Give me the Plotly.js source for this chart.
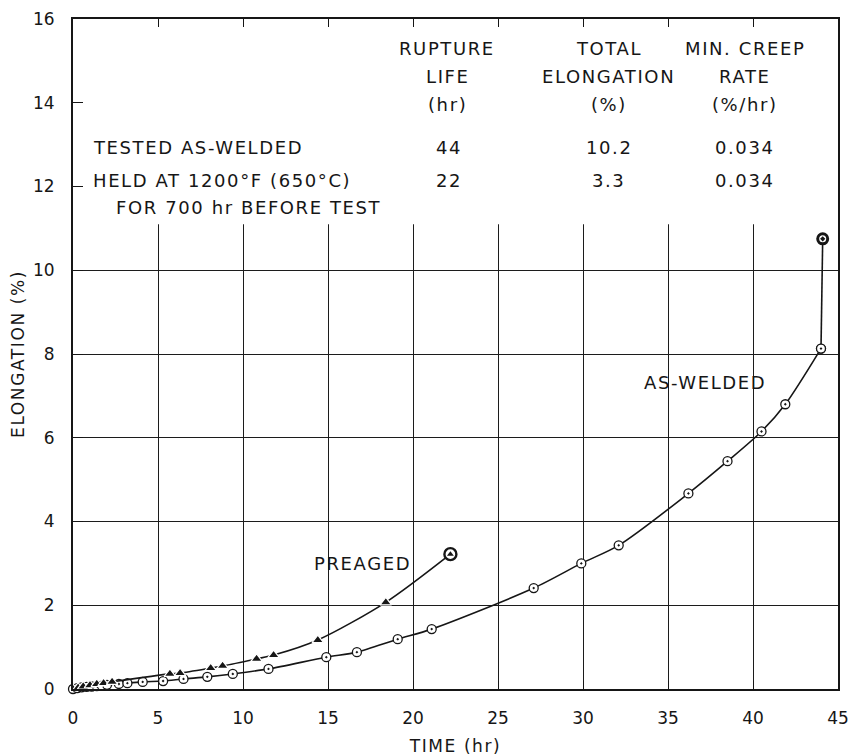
<!DOCTYPE html>
<html>
<head>
<meta charset="utf-8">
<script src="https://cdn.plot.ly/plotly-3.0.1.min.js"></script>
<style>
  html, body { margin: 0; padding: 0; background: #fff; }
  #chart { width: 855px; height: 756px; }
  .annotation-text { letter-spacing: 1.6px; }
  .xtitle, .ytitle { letter-spacing: 1.6px; }
</style>
</head>
<body>
<div id="chart"></div>
<script>
// ---- Data ----
// As-welded specimen (open circles)
const asWeldedTime = [0, 0.25, 0.5, 0.8, 1.1, 1.4, 1.7, 2.0, 2.7, 3.2, 4.1, 5.3, 6.5, 7.9, 9.4, 11.5, 14.9, 16.7, 19.1, 21.1, 27.1, 29.9, 32.1, 36.2, 38.5, 40.5, 41.9, 44.0];
const asWeldedElong = [0, 0.02, 0.04, 0.05, 0.06, 0.07, 0.08, 0.10, 0.12, 0.14, 0.17, 0.19, 0.24, 0.29, 0.36, 0.48, 0.76, 0.88, 1.19, 1.43, 2.41, 3.00, 3.43, 4.67, 5.44, 6.15, 6.80, 8.13];
const asWeldedRuptureTime = [44.1];
const asWeldedRuptureElong = [10.75];

// Preaged specimen (filled triangles)
const preagedTime = [0, 0.3, 0.6, 1.0, 1.4, 1.8, 2.3, 5.7, 6.3, 8.1, 8.8, 10.8, 11.8, 14.4, 18.4];
const preagedElong = [0, 0.03, 0.06, 0.09, 0.12, 0.14, 0.17, 0.36, 0.38, 0.50, 0.55, 0.72, 0.81, 1.17, 2.07];
const preagedRuptureTime = [22.2];
const preagedRuptureElong = [3.22];

// Table in the chart
const tableHeaders = [["RUPTURE", "LIFE", "(hr)"], ["TOTAL", "ELONGATION", "(%)"], ["MIN. CREEP", "RATE", "(%/hr)"]];
const rowLabels = ["TESTED AS-WELDED", "HELD AT 1200°F (650°C)", "FOR 700 hr BEFORE TEST"];
const asWeldedRow = ["44", "10.2", "0.034"];
const preagedRow = ["22", "3.3", "0.034"];

const xTickVals = [0, 5, 10, 15, 20, 25, 30, 35, 40, 45];
const yTickVals = [0, 2, 4, 6, 8, 10, 12, 14, 16];

// ---- Styling ----
const INK = '#161616';
const FONT = 'DejaVu Sans, sans-serif';

const traces = [
  // as-welded line
  {
    x: asWeldedTime, y: asWeldedElong, mode: 'lines+markers', type: 'scatter',
    line: { color: INK, width: 1.6, shape: 'spline', smoothing: 0.8 },
    marker: { symbol: 'circle-dot', size: 9, color: '#fff', line: { color: INK, width: 1.3 } },
    hoverinfo: 'skip', showlegend: false, cliponaxis: false
  },
  // as-welded final segment to rupture
  {
    x: [asWeldedTime[asWeldedTime.length - 1], asWeldedRuptureTime[0]],
    y: [asWeldedElong[asWeldedElong.length - 1], asWeldedRuptureElong[0]],
    mode: 'lines', line: { color: INK, width: 1.6 }, hoverinfo: 'skip', showlegend: false
  },
  // as-welded last circle redrawn over segment
  {
    x: [asWeldedTime[asWeldedTime.length - 1]], y: [asWeldedElong[asWeldedElong.length - 1]],
    mode: 'markers',
    marker: { symbol: 'circle-dot', size: 9, color: '#fff', line: { color: INK, width: 1.3 } },
    hoverinfo: 'skip', showlegend: false
  },
  // as-welded rupture point
  {
    x: asWeldedRuptureTime, y: asWeldedRuptureElong, mode: 'markers',
    marker: { symbol: 'circle-dot', size: 10, color: '#fff', line: { color: INK, width: 3 } },
    hoverinfo: 'skip', showlegend: false
  },
  // preaged line
  {
    x: preagedTime.concat(preagedRuptureTime), y: preagedElong.concat(preagedRuptureElong),
    mode: 'lines', type: 'scatter',
    line: { color: INK, width: 1.6, shape: 'spline', smoothing: 0.8 },
    hoverinfo: 'skip', showlegend: false
  },
  // preaged markers
  {
    x: preagedTime, y: preagedElong, mode: 'markers',
    marker: { symbol: 'triangle-up', size: 10, color: INK, line: { color: '#fff', width: 1.2 } },
    hoverinfo: 'skip', showlegend: false
  },
  // preaged rupture point (circle with triangle)
  {
    x: preagedRuptureTime, y: preagedRuptureElong, mode: 'markers',
    marker: { symbol: 'circle', size: 12, color: '#fff', line: { color: INK, width: 2.4 } },
    hoverinfo: 'skip', showlegend: false
  },
  {
    x: preagedRuptureTime, y: preagedRuptureElong, mode: 'markers',
    marker: { symbol: 'triangle-up', size: 6, color: INK, line: { width: 0 } },
    hoverinfo: 'skip', showlegend: false
  }
];

// ---- Annotations (text) ----
const annotations = [];
const textFont = { family: FONT, size: 18, color: INK };
const headerX = [22.0, 31.5, 39.5];
const headerY = [15.3, 14.63, 13.96];
tableHeaders.forEach((col, ci) => {
  col.forEach((t, ri) => {
    annotations.push({ x: headerX[ci], y: headerY[ri], xref: 'x', yref: 'y', text: t, showarrow: false, font: textFont, xanchor: 'center', yanchor: 'middle' });
  });
});
const rowY = [12.93, 12.14];
[asWeldedRow, preagedRow].forEach((row, ri) => {
  row.forEach((t, ci) => {
    annotations.push({ x: headerX[ci] + (ci === 0 ? 0.1 : 0), y: rowY[ri], xref: 'x', yref: 'y', text: t, showarrow: false, font: textFont, xanchor: 'center', yanchor: 'middle' });
  });
});
annotations.push({ x: 1.05, y: rowY[0], xref: 'x', yref: 'y', text: rowLabels[0], showarrow: false, font: textFont, xanchor: 'left', yanchor: 'middle' });
annotations.push({ x: 1.05, y: rowY[1], xref: 'x', yref: 'y', text: rowLabels[1], showarrow: false, font: textFont, xanchor: 'left', yanchor: 'middle' });
annotations.push({ x: 2.4, y: 11.5, xref: 'x', yref: 'y', text: rowLabels[2], showarrow: false, font: textFont, xanchor: 'left', yanchor: 'middle' });
annotations.push({ x: 17.0, y: 3.0, xref: 'x', yref: 'y', text: 'PREAGED', showarrow: false, font: textFont, xanchor: 'center', yanchor: 'middle' });
annotations.push({ x: 37.2, y: 7.32, xref: 'x', yref: 'y', text: 'AS-WELDED', showarrow: false, font: textFont, xanchor: 'center', yanchor: 'middle' });

const layout = {
  width: 855, height: 756,
  margin: { l: 73, r: 17, t: 19, b: 67 },
  paper_bgcolor: '#fff', plot_bgcolor: '#fff',
  font: { family: FONT, color: INK },
  showlegend: false,
  xaxis: {
    range: [0, 45], tickvals: xTickVals, ticktext: xTickVals.map(String),
    showgrid: true, gridcolor: '#1c1c1c', gridwidth: 1,
    showline: true, linecolor: INK, linewidth: 2, mirror: 'ticks',
    ticks: 'inside', ticklen: 8, tickwidth: 1, tickcolor: INK,
    zeroline: false, tickfont: { family: FONT, size: 17, color: INK },
    ticklabelstandoff: 13,
    title: { text: 'TIME (hr)', font: { family: FONT, size: 17, color: INK }, standoff: 13 },
    fixedrange: true
  },
  yaxis: {
    range: [0, 16], tickvals: yTickVals, ticktext: yTickVals.map(String),
    showgrid: true, gridcolor: '#1c1c1c', gridwidth: 1,
    showline: true, linecolor: INK, linewidth: 2, mirror: true,
    ticks: 'inside', ticklen: 10, tickwidth: 1, tickcolor: INK,
    zeroline: false, tickfont: { family: FONT, size: 17, color: INK },
    ticklabelstandoff: 13,
    title: { text: 'ELONGATION (%)', font: { family: FONT, size: 17, color: INK }, standoff: 4 },
    fixedrange: true
  },
  shapes: [
    { type: 'rect', xref: 'x', yref: 'y', x0: 0, x1: 45, y0: 11.1, y1: 16, fillcolor: '#fff', line: { width: 0 }, layer: 'between' }
  ],
  annotations: annotations
};

Plotly.newPlot('chart', traces, layout, { staticPlot: true, displayModeBar: false });
</script>
</body>
</html>
